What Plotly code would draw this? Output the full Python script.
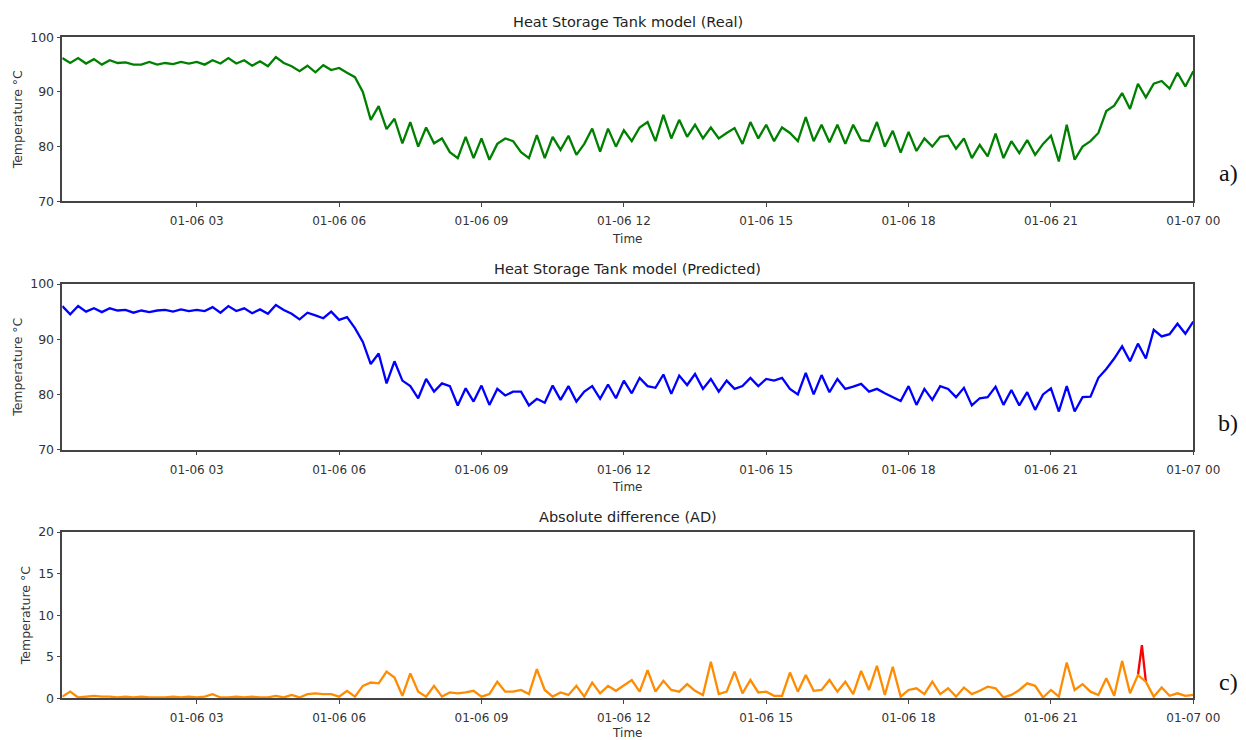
import pandas as pd
import plotly.graph_objects as go

# ---------------- data ----------------
times = pd.date_range("2018-01-06 00:10", periods=144, freq="10min")

real_temp = [
    96.2, 95.3, 96.2, 95.2, 96.0, 95.0, 95.8, 95.3, 95.4, 95.0,
    95.0, 95.5, 95.0, 95.3, 95.1, 95.5, 95.2, 95.5, 95.0, 95.8,
    95.2, 96.2, 95.2, 95.8, 94.8, 95.6, 94.7, 96.4, 95.3, 94.7,
    93.8, 94.8, 93.6, 94.9, 94.0, 94.4, 93.5, 92.7, 90.0, 84.9,
    87.4, 83.2, 85.1, 80.6, 84.5, 80.0, 83.5, 80.6, 81.5, 79.0,
    77.9, 81.8, 77.9, 81.5, 77.6, 80.5, 81.5, 81.0, 79.0, 77.9,
    82.1, 77.9, 81.8, 79.4, 82.0, 78.5, 80.5, 83.3, 79.1, 83.3,
    80.0, 83.0, 81.0, 83.5, 84.5, 81.0, 85.8, 81.5, 84.9, 81.8,
    84.0, 81.5, 83.5, 81.5, 82.5, 83.4, 80.5, 84.5, 81.5, 84.0,
    81.0, 83.5, 82.5, 81.0, 85.4, 81.0, 84.0, 80.8, 84.0, 80.5,
    84.0, 81.2, 81.0, 84.5, 80.0, 82.9, 78.9, 82.7, 79.2, 81.5,
    80.0, 81.8, 82.0, 79.6, 81.5, 77.9, 80.3, 78.2, 82.4, 77.9,
    81.0, 78.8, 81.2, 78.5, 80.5, 82.0, 77.3, 84.0, 77.6, 80.0,
    81.0, 82.5, 86.5, 87.5, 89.8, 86.9, 91.5, 89.0, 91.5, 92.0,
    90.6, 93.5, 91.0, 93.8,
]

pred_temp = [
    96.0, 94.5, 96.0, 95.0, 95.6, 94.9, 95.6, 95.2, 95.3, 94.8,
    95.2, 94.9, 95.2, 95.3, 95.0, 95.4, 95.1, 95.3, 95.1, 95.8,
    94.8, 96.0, 95.1, 95.6, 94.7, 95.4, 94.6, 96.2, 95.3, 94.6,
    93.6, 94.8, 94.3, 93.8, 95.0, 93.5, 94.0, 92.0, 89.5, 85.5,
    87.4, 82.0, 86.0, 82.5, 81.5, 79.3, 82.8, 80.5, 82.0, 81.5,
    78.0, 81.1, 78.7, 81.6, 78.1, 81.0, 79.8, 80.5, 80.5, 78.0,
    79.2, 78.5, 81.6, 79.0, 81.5, 78.7, 80.5, 81.5, 79.2, 81.8,
    79.3, 82.5, 80.2, 83.0, 81.5, 81.2, 83.6, 80.1, 83.4, 81.7,
    83.7, 81.0, 82.8, 80.5, 82.5, 81.0, 81.5, 83.0, 81.5, 82.8,
    82.5, 83.0, 81.0, 80.0, 83.9, 80.0, 83.5, 80.4, 82.8, 81.0,
    81.4, 81.9, 80.5, 81.0, 80.2, 79.5, 78.8, 81.5, 78.1, 81.0,
    79.0, 81.5, 81.0, 79.5, 81.2, 78.0, 79.3, 79.5, 81.4, 78.1,
    80.8, 78.0, 80.4, 77.2, 80.0, 81.1, 76.9, 81.5, 76.9, 79.5,
    79.6, 83.0, 84.6, 86.5, 88.7, 86.0, 89.2, 86.5, 91.7, 90.5,
    90.9, 92.8, 91.0, 93.2,
]

abs_diff = [
    0.2, 0.8, 0.1, 0.2, 0.3, 0.2, 0.2, 0.1, 0.2, 0.1,
    0.2, 0.1, 0.1, 0.1, 0.2, 0.1, 0.2, 0.1, 0.2, 0.5,
    0.1, 0.1, 0.2, 0.1, 0.2, 0.1, 0.1, 0.3, 0.1, 0.4,
    0.1, 0.5, 0.6, 0.5, 0.5, 0.2, 0.9, 0.2, 1.5, 1.9,
    1.8, 3.2, 2.5, 0.3, 3.0, 0.8, 0.2, 1.5, 0.2, 0.7,
    0.6, 0.7, 0.9, 0.2, 0.5, 2.0, 0.8, 0.8, 1.0, 0.5,
    3.5, 1.0, 0.2, 0.7, 0.4, 1.5, 0.2, 1.9, 0.6, 1.5,
    0.9, 1.5, 2.2, 0.8, 3.4, 0.8, 2.1, 1.0, 0.8, 1.7,
    0.9, 0.4, 4.4, 0.5, 0.8, 3.2, 0.6, 2.2, 0.7, 0.8,
    0.3, 0.3, 3.1, 0.8, 2.8, 0.9, 1.0, 2.2, 0.8, 2.0,
    0.5, 3.3, 1.0, 3.9, 0.4, 3.8, 0.2, 1.0, 1.2, 0.5,
    2.0, 0.5, 1.2, 0.2, 1.3, 0.5, 0.9, 1.4, 1.2, 0.1,
    0.4, 1.0, 1.8, 1.5, 0.1, 1.0, 0.2, 4.3, 1.0, 1.7,
    0.8, 0.4, 2.4, 0.3, 4.5, 0.6, 2.8, 2.0, 0.2, 1.3,
    0.3, 0.6, 0.3, 0.4,
]

spike_times = ["2018-01-06 22:50", "2018-01-06 22:55", "2018-01-06 23:00"]
spike_values = [2.8, 6.4, 2.0]

panel_titles = [
    "Heat Storage Tank model (Real)",
    "Heat Storage Tank model (Predicted)",
    "Absolute difference (AD)",
]
panel_labels = ["a)", "b)", "c)"]
y_ranges = [[70, 100], [70, 100], [0, 20]]
y_dticks = [10, 10, 5]
x_end = "2018-01-07 00:00"

# ---------------- layout geometry ----------------
W, H = 1246, 740
x_dom = [62.3 / W, 1193.3 / W]
panels_px = [(37.3, 201.3), (284.0, 449.6), (532.0, 698.3)]
label_y_px = [173, 423, 682]

fig = go.Figure()
fig.add_trace(go.Scatter(x=times, y=real_temp, mode="lines",
                         line=dict(color="#008000", width=2.3),
                         xaxis="x", yaxis="y", showlegend=False))
fig.add_trace(go.Scatter(x=times, y=pred_temp, mode="lines",
                         line=dict(color="#0000ff", width=2.3),
                         xaxis="x2", yaxis="y2", showlegend=False))
fig.add_trace(go.Scatter(x=spike_times, y=spike_values, mode="lines",
                         line=dict(color="#ff0000", width=2.3),
                         xaxis="x3", yaxis="y3", showlegend=False))
fig.add_trace(go.Scatter(x=times, y=abs_diff, mode="lines",
                         line=dict(color="#ff8c00", width=2.3),
                         xaxis="x3", yaxis="y3", showlegend=False))

font_fam = "DejaVu Sans"
layout = dict(
    width=W, height=H,
    margin=dict(l=0, r=0, t=0, b=0),
    paper_bgcolor="white", plot_bgcolor="white",
    font=dict(family=font_fam, size=12, color="#333333"),
    annotations=[],
)

for k in range(3):
    top, bot = panels_px[k]
    sfx = "" if k == 0 else str(k + 1)
    layout["xaxis" + sfx] = dict(
        domain=x_dom, anchor="y" + sfx, type="date",
        range=[times[0], x_end],
        tick0="2018-01-06 00:00", dtick=3 * 3600 * 1000,
        tickformat="%m-%d %H",
        ticks="outside", ticklen=4, tickwidth=1.2, tickcolor="#444",
        ticklabelstandoff=4,
        showline=True, mirror=True, linecolor="#444", linewidth=1.5,
        showgrid=False, zeroline=False, automargin=False,
        tickfont=dict(family=font_fam, size=12, color="#333"),
        title=dict(text="Time", font=dict(family=font_fam, size=12, color="#333"),
                   standoff=7),
    )
    layout["yaxis" + sfx] = dict(
        domain=[1 - bot / H, 1 - top / H], anchor="x" + sfx,
        range=y_ranges[k], dtick=y_dticks[k], tick0=0,
        ticks="outside", ticklen=4, tickwidth=1.2, tickcolor="#444",
        showline=True, mirror=True, linecolor="#444", linewidth=1.5,
        showgrid=False, zeroline=False, automargin=False,
        tickfont=dict(family=font_fam, size=12.5, color="#333"),
        title=dict(text="Temperature °C",
                   font=dict(family=font_fam, size=12.5, color="#333"),
                   standoff=5),
    )
    layout["annotations"].append(dict(
        text=panel_titles[k], xref="x" + sfx + " domain", yref="y" + sfx + " domain",
        x=0.5, y=1, xanchor="center", yanchor="bottom", yshift=5, showarrow=False,
        font=dict(family=font_fam, size=14.5, color="#222"),
    ))
    layout["annotations"].append(dict(
        text=panel_labels[k], xref="paper", yref="paper",
        x=1228 / W, y=1 - label_y_px[k] / H, xanchor="center", yanchor="middle",
        showarrow=False,
        font=dict(family="Liberation Serif", size=24, color="#111"),
    ))

fig.update_layout(**layout)
fig.write_html("out.html")
